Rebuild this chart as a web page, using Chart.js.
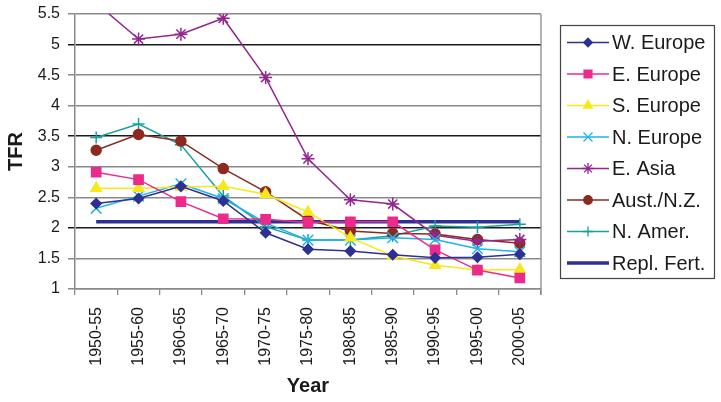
<!DOCTYPE html>
<html>
<head>
<meta charset="utf-8">
<script src="https://cdn.jsdelivr.net/npm/chart.js@4/dist/chart.umd.min.js"></script>
<style>
  html, body { margin: 0; padding: 0; background: #fff; }
  #wrap { width: 721px; height: 402px; position: relative; }
</style>
</head>
<body>
<div id="wrap"><canvas id="tfr-chart" width="721" height="402"></canvas></div>
<script>
// Datos del gráfico (TFR por región)
const periodos = ['1950-55', '1955-60', '1960-65', '1965-70', '1970-75', '1975-80',
  '1980-85', '1985-90', '1990-95', '1995-00', '2000-05'];

const wEurope = [2.40, 2.48, 2.68, 2.44, 1.92, 1.65, 1.62, 1.56, 1.51, 1.52, 1.57];
const eEurope = [2.91, 2.79, 2.43, 2.15, 2.14, 2.09, 2.10, 2.10, 1.64, 1.31, 1.18];
const sEurope = [2.65, 2.65, 2.67, 2.68, 2.55, 2.26, 1.84, 1.54, 1.39, 1.31, 1.32];
const nEurope = [2.32, 2.52, 2.72, 2.48, 2.08, 1.80, 1.80, 1.84, 1.81, 1.66, 1.61];
const eAsia = [5.68, 5.09, 5.17, 5.43, 4.46, 3.13, 2.46, 2.39, 1.88, 1.78, 1.81];
const austNZ = [3.27, 3.53, 3.42, 2.97, 2.59, 2.13, 1.95, 1.91, 1.90, 1.81, 1.75];
const nAmer = [3.48, 3.70, 3.36, 2.52, 2.02, 1.80, 1.80, 1.87, 2.03, 2.01, 2.06];
const replFert = [2.1, 2.1, 2.1, 2.1, 2.1, 2.1, 2.1, 2.1, 2.1, 2.1, 2.1];

const yTicks = ['1', '1.5', '2', '2.5', '3', '3.5', '4', '4.5', '5', '5.5'];

function serie(label, data, color, pointStyle, radius) {
  return {
    label: label,
    data: data,
    borderColor: color,
    backgroundColor: color,
    borderWidth: 1.5,
    pointStyle: pointStyle,
    pointRadius: radius,
    pointBorderWidth: 1.5,
    pointBorderColor: color,
    pointBackgroundColor: color,
    tension: 0
  };
}

const datasets = [
  serie('W. Europe', wEurope, '#2E3192', 'rectRot', 5),
  serie('E. Europe', eEurope, '#EC2A8C', 'rect', 6.5),
  serie('S. Europe', sEurope, '#F7E81C', 'triangle', 6),
  serie('N. Europe', nEurope, '#1FB3EA', 'crossRot', 7.5),
  serie('E. Asia', eAsia, '#93278F', 'star', 6.5),
  serie('Aust./N.Z.', austNZ, '#8C2A20', 'circle', 5),
  serie('N. Amer.', nAmer, '#16A0A0', 'cross', 6),
  {
    label: 'Repl. Fert.',
    data: replFert,
    borderColor: '#2E3192',
    backgroundColor: '#2E3192',
    borderWidth: 3.5,
    pointRadius: 0,
    pointStyle: false
  }
];

// Borde derecho del área de trazado
const bordeDerecho = {
  id: 'bordeDerecho',
  afterDraw(chart) {
    const a = chart.chartArea;
    const ctx = chart.ctx;
    ctx.save();
    ctx.strokeStyle = '#8a8a8a';
    ctx.lineWidth = 1.3;
    ctx.beginPath();
    ctx.moveTo(a.right, a.top);
    ctx.lineTo(a.right, a.bottom + 6);
    ctx.stroke();
    ctx.restore();
  }
};

// Leyenda con recuadro dibujada a mano
const leyenda = {
  id: 'leyenda',
  afterDraw(chart) {
    const ctx = chart.ctx;
    const box = { x: 560, y: 25, w: 154, h: 253 };
    ctx.save();
    ctx.strokeStyle = '#444';
    ctx.lineWidth = 1.2;
    ctx.strokeRect(box.x + 0.5, box.y + 0.5, box.w, box.h);
    ctx.font = '20px "Liberation Sans", Arial, sans-serif';
    ctx.textBaseline = 'middle';
    chart.data.datasets.forEach(function(ds, i) {
      const y = 42.5 + i * 31.5;
      ctx.strokeStyle = ds.borderColor;
      ctx.lineWidth = ds.borderWidth;
      ctx.beginPath();
      ctx.moveTo(567, y);
      ctx.lineTo(609, y);
      ctx.stroke();
      if (ds.pointRadius > 0) {
        ctx.fillStyle = ds.pointBackgroundColor;
        ctx.strokeStyle = ds.pointBorderColor;
        ctx.lineWidth = 1.3;
        Chart.helpers.drawPoint(ctx, {
          pointStyle: ds.pointStyle,
          rotation: 0,
          borderWidth: 1.3,
          radius: ds.pointRadius * 0.85
        }, 588, y);
      }
      ctx.fillStyle = '#1a1a1a';
      ctx.fillText(ds.label, 612, y + 1);
    });
    ctx.restore();
  }
};

const colorGrid = function(ctx) {
  const v = ctx.tick ? ctx.tick.value : null;
  if (v === 5 || v === 3.5 || v === 2) return '#1a1a1a';
  return '#8a8a8a';
};

new Chart(document.getElementById('tfr-chart').getContext('2d'), {
  type: 'line',
  data: { labels: periodos, datasets: datasets },
  options: {
    responsive: false,
    animation: false,
    layout: { padding: { top: 14, right: 180, bottom: 0, left: 0 } },
    plugins: {
      legend: { display: false },
      tooltip: { enabled: false }
    },
    scales: {
      x: {
        offset: true,
        grid: {
          offset: true,
          drawOnChartArea: false,
          drawTicks: true,
          tickLength: 6,
          color: '#8a8a8a',
          lineWidth: 1.3
        },
        border: { color: '#8a8a8a', width: 1.5 },
        ticks: {
          minRotation: 90,
          maxRotation: 90,
          autoSkip: false,
          padding: 12,
          color: '#1a1a1a',
          font: { family: '"Liberation Sans", Arial, sans-serif', size: 16 }
        },
        title: {
          display: true,
          text: 'Year',
          color: '#1a1a1a',
          padding: { top: 4, bottom: 4 },
          font: { family: '"Liberation Sans", Arial, sans-serif', size: 20, weight: 'bold' }
        },
        afterFit(scale) {
          scale.height = 113;
          scale.paddingLeft = 0;
          scale.paddingRight = 0;
        }
      },
      y: {
        min: 1,
        max: 5.5,
        ticks: {
          stepSize: 0.5,
          padding: 8,
          color: '#1a1a1a',
          font: { family: '"Liberation Sans", Arial, sans-serif', size: 16 },
          callback: function(value) {
            const i = Math.round((value - 1) * 2);
            return yTicks[i];
          }
        },
        grid: {
          color: colorGrid,
          lineWidth: 1.5,
          tickLength: 7
        },
        border: { color: '#8a8a8a', width: 1.5 },
        title: {
          display: true,
          text: 'TFR',
          color: '#1a1a1a',
          padding: { top: 4, bottom: 4 },
          font: { family: '"Liberation Sans", Arial, sans-serif', size: 20, weight: 'bold' }
        },
        afterFit(scale) {
          scale.width = 75;
          scale.paddingTop = 0;
          scale.paddingBottom = 0;
        }
      }
    }
  },
  plugins: [bordeDerecho, leyenda]
});
</script>
</body>
</html>
